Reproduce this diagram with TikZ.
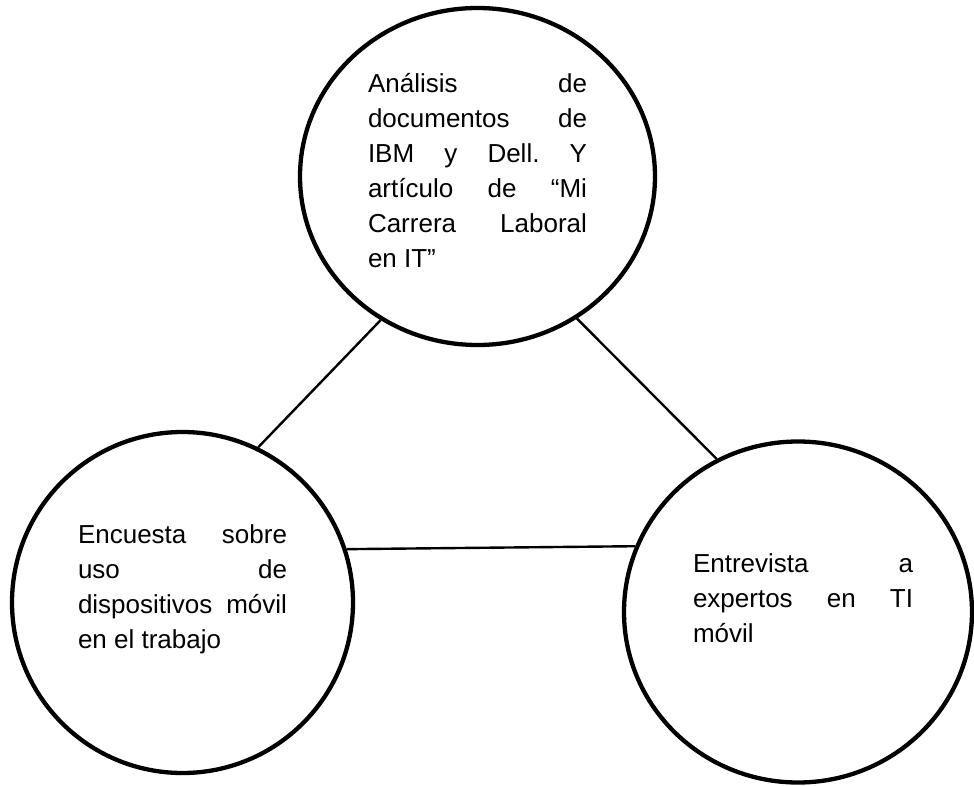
\documentclass[tikz,border=0pt]{standalone}
\usepackage{fontspec}
\setmainfont{Liberation Sans}
\usetikzlibrary{shapes.geometric}
\begin{document}
\begin{tikzpicture}[x=1pt,y=-1pt,
  bubble/.style={ellipse, draw=black, line width=4.3pt, inner sep=0pt, fill=none},
  link/.style={draw=black, line width=2.4pt},
  txt/.style={anchor=base west, inner sep=0pt, outer sep=0pt}]
\useasboundingbox (0,0) rectangle (974,786);
\fill[white] (0,0) rectangle (974,786);
% circles
\node[bubble, minimum width=355pt, minimum height=337pt] (top) at (477.5,176.5) {};
\node[bubble, minimum width=341pt, minimum height=341pt] (left) at (182.5,602.5) {};
\node[bubble, minimum width=348pt, minimum height=341pt] (right) at (798,612) {};
% connectors
\draw[link] (top.236.7) -- (left.64.3);
\draw[link] (top.305.3) -- (right.118);
\draw[link] (left.18.5) -- (right.158.3);
% texts
\node[txt] (ttop) at (368,93) {\parbox[t]{219pt}{\fontsize{26}{35}\selectfont
Análisis\hfill de\\
documentos\hfill de\\
IBM\hfill y\hfill Dell.\hfill Y\\
artículo\hfill de\hfill “Mi\\
Carrera\hfill Laboral\\
en IT”}};
\node[txt] (tleft) at (78,543) {\parbox[t]{209pt}{\fontsize{26}{35}\selectfont
Encuesta\hfill sobre\\
uso\hfill de\\
dispositivos\hfill móvil\\
en el trabajo}};
\node[txt] (tright) at (693,572) {\parbox[t]{220pt}{\fontsize{26}{35}\selectfont
Entrevista\hfill a\\
expertos\hfill en\hfill TI\\
móvil}};
\end{tikzpicture}
\end{document}
